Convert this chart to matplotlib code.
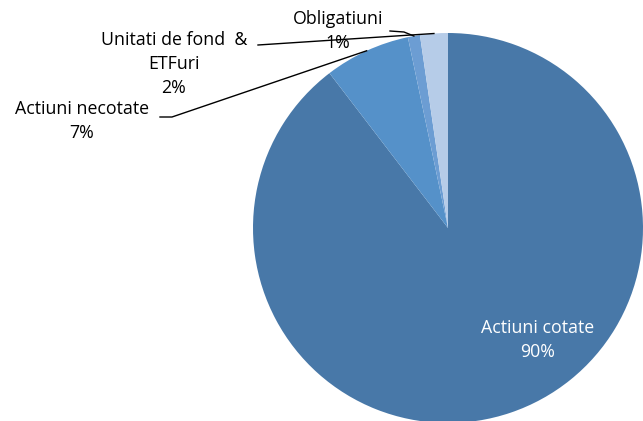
import numpy as np
import matplotlib
matplotlib.use("Agg")
import matplotlib.pyplot as plt

categories = ["Actiuni cotate", "Actiuni necotate", "Obligatiuni", "Unitati de fond  &\nETFuri"]
values = [89.6, 7.1, 1.0, 2.3]
pct_labels = ["90%", "7%", "1%", "2%"]
colors = ["#4878A8", "#5591C9", "#6C9DD3", "#B6CCE8"]

W, H = 643, 421
fig = plt.figure(figsize=(W / 100, H / 100), dpi=100)
ax = fig.add_axes([0, 0, 1, 1])
cx, cy, R = 448, H - 228, 195
wedges, _ = ax.pie(values, colors=colors, startangle=90, counterclock=False,
                   center=(cx, cy), radius=R, frame=True,
                   wedgeprops=dict(linewidth=0))
ax.set_xlim(0, W)
ax.set_ylim(0, H)
ax.set_aspect("equal")
ax.axis("off")

font = dict(family="Open Sans", fontsize=12.8)
LS = 1.4

def edge_point(w):
    ang = np.deg2rad((w.theta1 + w.theta2) / 2)
    return cx + R * np.cos(ang), cy + R * np.sin(ang)

# Actiuni cotate (inside)
ax.text(538, H - 340, categories[0] + "\n" + pct_labels[0], color="white",
        ha="center", va="center", linespacing=LS, **font)

# Actiuni necotate
ex, ey = edge_point(wedges[1])
ax.plot([160, 172, ex], [H - 117, H - 117, ey], color="black", lw=1)
ax.text(82, H - 121, categories[1] + "\n" + pct_labels[1], ha="center", va="center",
        linespacing=LS, **font)

# Obligatiuni
ex, ey = edge_point(wedges[2])
ax.plot([390, 404, ex], [H - 31, H - 32, ey], color="black", lw=1)
ax.text(338, H - 31, categories[2] + "\n" + pct_labels[2], ha="center", va="center",
        linespacing=LS, **font)

# Unitati de fond & ETFuri
ex, ey = edge_point(wedges[3])
ax.plot([258, ex], [H - 45, ey], color="black", lw=1)
ax.text(174, H - 64, categories[3] + "\n" + pct_labels[3], ha="center", va="center",
        linespacing=LS, **font)

fig.savefig("out.png", dpi=100)
